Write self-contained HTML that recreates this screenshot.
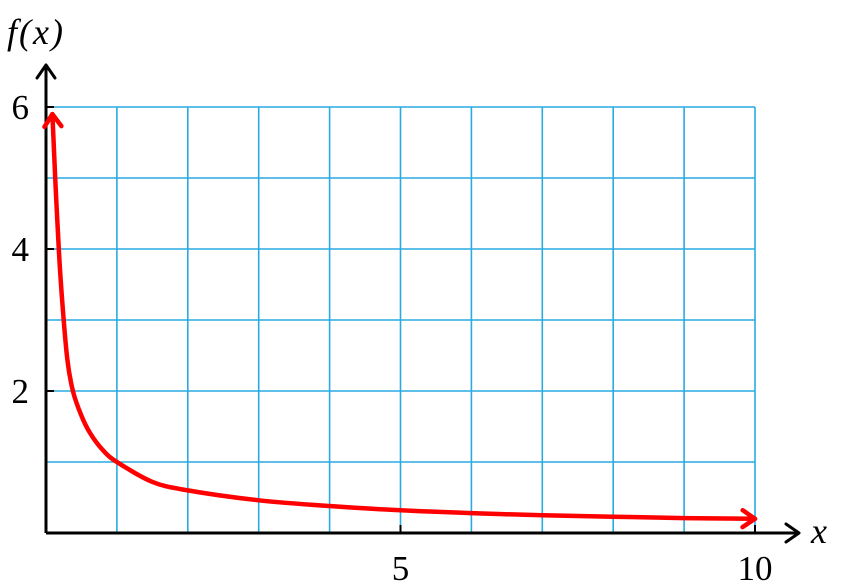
<!DOCTYPE html>
<html><head><meta charset="utf-8"><style>
html,body{margin:0;padding:0;background:#fff;}
svg{display:block;font-family:"Liberation Serif",serif;}
</style></head><body>
<svg id="chart" width="842" height="588" viewBox="0 0 842 588" xmlns="http://www.w3.org/2000/svg">
<g id="grid"></g>
<g id="axes"></g>
<g id="series"></g>
<g id="labels"></g>
</svg>
<script>
const xValues = [0.09, 0.13, 0.18, 0.23, 0.3, 0.38, 0.5, 0.62, 0.8, 1, 1.5, 2, 3, 4, 5, 6, 7, 8, 9, 10];
const yValues = [5.9, 5.0, 4.0, 3.25, 2.45, 2.0, 1.65, 1.41, 1.17, 1.0, 0.72, 0.6, 0.46, 0.38, 0.32, 0.28, 0.25, 0.23, 0.21, 0.2];
const xTicks = [5, 10];
const yTicks = [2, 4, 6];
const xGrid = [0,1,2,3,4,5,6,7,8,9,10];
const yGrid = [0,1,2,3,4,5,6];

const NS = "http://www.w3.org/2000/svg";
const X = v => 46 + v * 70.9;
const Y = v => 533 - v * 71;
function mk(tag, attrs, parent){const e=document.createElementNS(NS,tag);for(const k in attrs)e.setAttribute(k,attrs[k]);parent.appendChild(e);return e;}
const grid=document.getElementById('grid'), axes=document.getElementById('axes'), series=document.getElementById('series'), labels=document.getElementById('labels');

xGrid.forEach(v=>{const l=mk('line',{x1:X(v),x2:X(v),y1:Y(0),y2:Y(6),stroke:'#29abe2','stroke-width':1.6},grid);

});
yGrid.forEach(v=>{const l=mk('line',{x1:X(0),x2:X(10),y1:Y(v),y2:Y(v),stroke:'#29abe2','stroke-width':1.6},grid);

});

const xa=mk('path',{d:`M${X(0)} ${Y(0)} H797`,stroke:'#000','stroke-width':3,fill:'none'},axes);


const xh=mk('path',{d:`M786 524 L799 533 L786 542`,stroke:'#000','stroke-width':3,fill:'none','stroke-linecap':'round','stroke-linejoin':'round'},axes);


const ya=mk('path',{d:`M${X(0)} ${Y(0)} V67`,stroke:'#000','stroke-width':3,fill:'none'},axes);


const yh=mk('path',{d:`M37 78 L46 65 L55 78`,stroke:'#000','stroke-width':3,fill:'none','stroke-linecap':'round','stroke-linejoin':'round'},axes);



xTicks.forEach(v=>{const t=mk('line',{x1:X(v),x2:X(v),y1:Y(0),y2:Y(0)-8,stroke:'#000','stroke-width':2},axes);


const tx=mk('text',{x:X(v),y:580,'text-anchor':'middle','font-size':35},labels);tx.textContent=v;

});
yTicks.forEach(v=>{const t=mk('line',{x1:X(0),x2:X(0)+8,y1:Y(v),y2:Y(v),stroke:'#000','stroke-width':2},axes);


const tx=mk('text',{x:29,y:Y(v)+12,'text-anchor':'end','font-size':35},labels);tx.textContent=v;

});

const xl=mk('text',{x:811,y:543,'font-size':36,'font-style':'italic'},labels);xl.textContent='x';


const yl=mk('text',{x:7,y:44,'font-size':36,'font-style':'italic','letter-spacing':2},labels);yl.textContent='f(x)';



// smooth curve (Catmull-Rom)
const P=xValues.map((v,i)=>[X(v),Y(yValues[i])]);
let d=`M${P[0][0].toFixed(1)} ${P[0][1].toFixed(1)} `;
for(let i=0;i<P.length-1;i++){
  const p0=P[i-1]||P[i],p1=P[i],p2=P[i+1],p3=P[i+2]||P[i+1];
  const c1=[p1[0]+(p2[0]-p0[0])/6,p1[1]+(p2[1]-p0[1])/6];
  const c2=[p2[0]-(p3[0]-p1[0])/6,p2[1]-(p3[1]-p1[1])/6];
  d+=`C${c1[0].toFixed(1)} ${c1[1].toFixed(1)} ${c2[0].toFixed(1)} ${c2[1].toFixed(1)} ${p2[0].toFixed(1)} ${p2[1].toFixed(1)} `;
}
const c=mk('path',{d:d,stroke:'#f00','stroke-width':4.5,fill:'none','stroke-linejoin':'round','stroke-linecap':'round'},series);


function head(i,j,name){const x0=X(xValues[i]),y0=Y(yValues[i]),x1=X(xValues[j]),y1=Y(yValues[j]);
const a=Math.atan2(y0-y1,x0-x1),L=15,w=0.6;
const p=`M${x0-L*Math.cos(a-w)} ${y0-L*Math.sin(a-w)} L${x0} ${y0} L${x0-L*Math.cos(a+w)} ${y0-L*Math.sin(a+w)}`;
const h=mk('path',{d:p,stroke:'#f00','stroke-width':4.5,fill:'none','stroke-linecap':'round','stroke-linejoin':'round'},series);

}
head(0,1,'curve-start-arrow');
head(xValues.length-1,xValues.length-2,'curve-end-arrow');
</script>
</body></html>
